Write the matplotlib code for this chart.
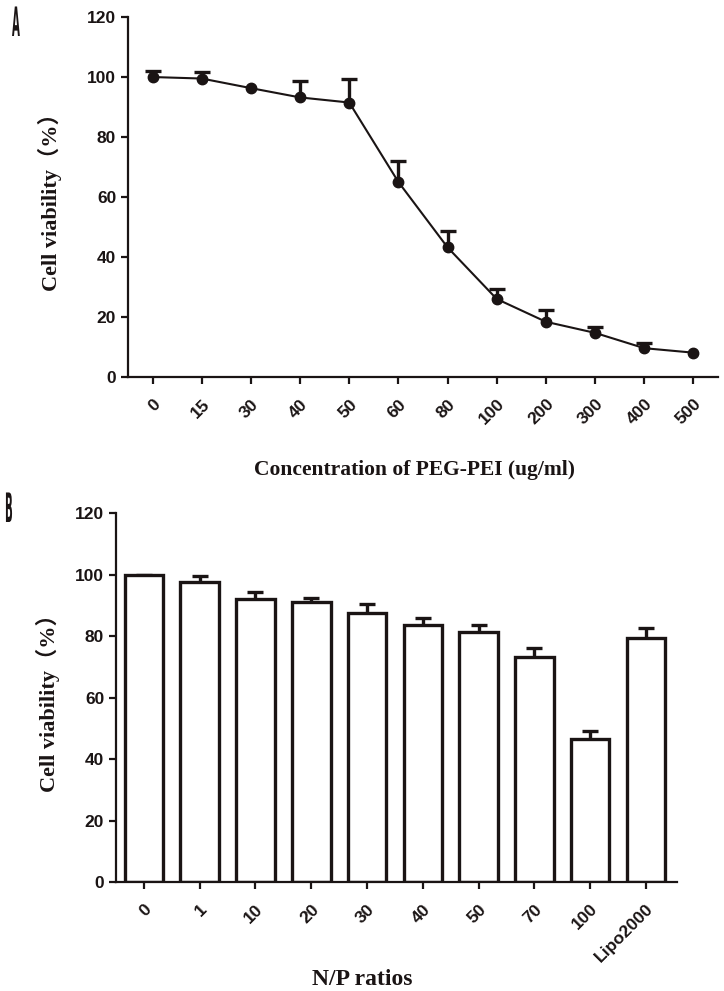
import matplotlib
matplotlib.use('Agg')
import matplotlib.pyplot as plt
import numpy as np
from matplotlib.textpath import TextPath
from matplotlib.patches import PathPatch
from matplotlib.font_manager import FontProperties
from matplotlib.transforms import Affine2D

# Panel A: PEG-PEI concentration series
conc_labels = ['0', '15', '30', '40', '50', '60', '80', '100', '200', '300', '400', '500']
viab_a = [100.0, 99.5, 96.3, 93.2, 91.5, 65.0, 43.2, 26.0, 18.4, 14.7, 9.6, 8.1]
err_a = [2.0, 2.2, 0.0, 5.6, 7.9, 7.1, 5.5, 3.3, 4.0, 2.1, 1.8, 0.0]

# Panel B: N/P ratios bars
np_labels = ['0', '1', '10', '20', '30', '40', '50', '70', '100', 'Lipo2000']
viab_b = [100.0, 97.6, 92.2, 91.1, 87.7, 83.7, 81.4, 73.2, 46.7, 79.4]
err_b = [0.0, 2.1, 2.1, 1.5, 2.7, 2.2, 2.1, 2.9, 2.3, 3.2]

ink = '#1a1414'
tick_font = FontProperties(family='Liberation Sans', weight='bold', size=12.5)
label_family = ['Liberation Serif', 'Noto Sans CJK SC']

fig = plt.figure(figsize=(7.24, 9.91), dpi=100)
axA = fig.add_axes([0.1768, 0.6196, 0.8149, 0.3632])
axB = fig.add_axes([0.1602, 0.1100, 0.7745, 0.3720])

def style(ax, labels):
    for s in ['top', 'right']:
        ax.spines[s].set_visible(False)
    for s in ['left', 'bottom']:
        ax.spines[s].set_linewidth(1.6)
        ax.spines[s].set_color(ink)
    ax.tick_params(width=1.6, length=5, color=ink)
    ax.set_ylim(0, 120)
    ax.set_yticks(np.arange(0, 121, 20))
    ax.set_xticks(np.arange(len(labels)))
    ax.set_xticklabels(labels, rotation=45, ha='right', va='top',
                       rotation_mode='anchor')
    ax.tick_params(axis='x', pad=9)
    for t in ax.get_yticklabels() + ax.get_xticklabels():
        t.set_fontproperties(tick_font)
        t.set_color(ink)

# --- A ---
xa = np.arange(len(conc_labels))
ea = np.array(err_a)
va = np.array(viab_a)
has_err = ea > 0
axA.plot(xa, va, 'o-', color=ink, ms=7.5, lw=1.5, zorder=3)
_, caps, _ = axA.errorbar(xa[has_err], va[has_err],
                          yerr=[np.zeros(has_err.sum()), ea[has_err]],
                          fmt='none', ecolor=ink, elinewidth=2.4, capsize=5.5,
                          capthick=2.4, zorder=2)
caps[0].set_visible(False)  # only upper caps
axA.set_xlim(-0.5, 11.5)
style(axA, conc_labels)
axA.set_ylabel('Cell viability（%）', family=label_family, weight='bold',
               fontsize=16, color=ink)
axA.yaxis.set_label_coords(-0.112, 0.5)
axA.set_xlabel('Concentration of PEG-PEI (ug/ml)', family=label_family,
               weight='bold', fontsize=15.5, color=ink)
axA.xaxis.set_label_coords(0.485, -0.232)

# --- B ---
xb = np.arange(len(np_labels))
axB.bar(xb, viab_b, width=0.69, color='white', edgecolor=ink, linewidth=2.4,
        zorder=2)
_, capsb, _ = axB.errorbar(xb, viab_b, yerr=[np.zeros(len(err_b)), err_b],
                           fmt='none', ecolor=ink, elinewidth=2.4, capsize=6,
                           capthick=2.4, zorder=1)
capsb[0].set_visible(False)
axB.set_xlim(-0.5, 9.55)
style(axB, np_labels)
axB.set_ylabel('Cell viability（%）', family=label_family, weight='bold',
               fontsize=16, color=ink)
axB.yaxis.set_label_coords(-0.100, 0.5)
axB.set_xlabel('N/P ratios', family=label_family, weight='bold', fontsize=17,
               color=ink)
axB.xaxis.set_label_coords(0.44, -0.235)

# panel letters: tall, condensed glyphs
def letter(ch, x_px, y_px):
    tp = TextPath((0, 0), ch, size=30,
                  prop=FontProperties(family='DejaVu Sans', weight='bold'))
    tr = Affine2D().scale(0.34, 1.35).translate(x_px, fig.bbox.height - y_px)
    fig.patches.append(PathPatch(tr.transform_path(tp), color=ink, lw=0,
                                 transform=None, figure=fig))

letter('A', 12, 36)
letter('B', 5, 522)

fig.savefig('out.png', dpi=100)
